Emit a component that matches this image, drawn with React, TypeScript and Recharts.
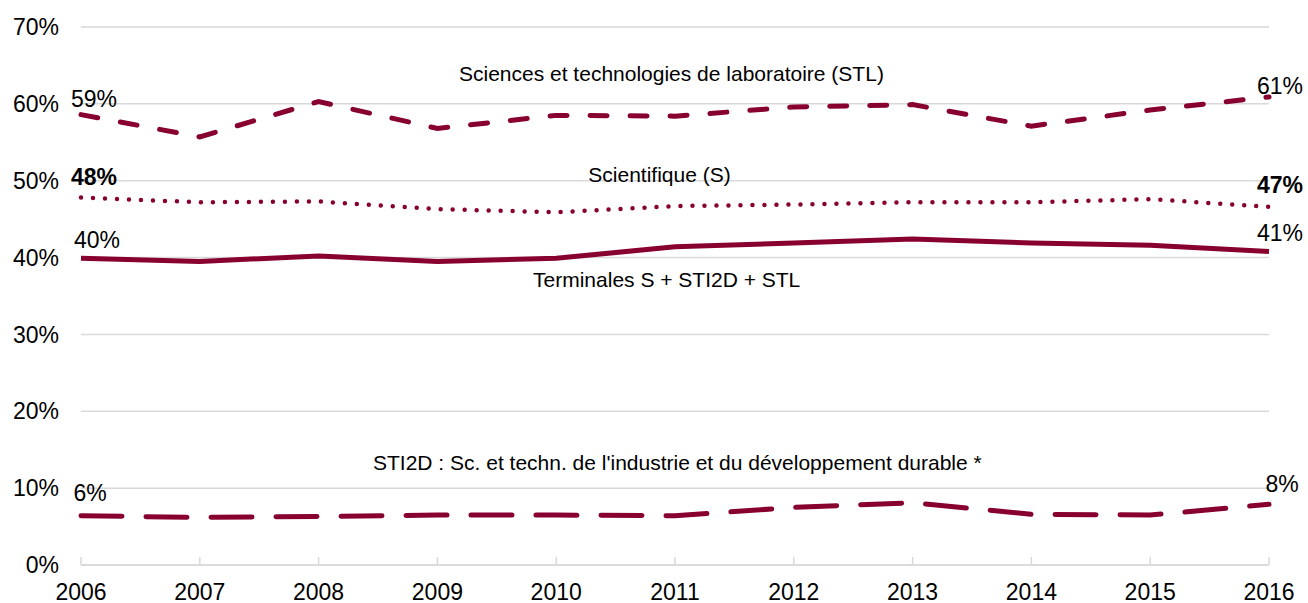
import React from 'react';
import { LineChart, Line, XAxis, YAxis, CartesianGrid, LabelList, ReferenceDot } from 'recharts';

const years = [2006, 2007, 2008, 2009, 2010, 2011, 2012, 2013, 2014, 2015, 2016];
const stl = [58.6, 55.7, 60.3, 56.8, 58.5, 58.4, 59.6, 59.9, 57.1, 59.2, 60.9];
const scientifique = [47.8, 47.2, 47.3, 46.3, 45.9, 46.7, 46.9, 47.2, 47.2, 47.6, 46.6];
const total = [39.9, 39.5, 40.2, 39.5, 39.9, 41.4, 41.9, 42.4, 41.9, 41.6, 40.8];
const sti2d = [6.4, 6.2, 6.3, 6.5, 6.5, 6.4, 7.5, 8.1, 6.6, 6.5, 7.9];
const yTicks = [0, 10, 20, 30, 40, 50, 60, 70];

const seriesNames = {
  stl: 'Sciences et technologies de laboratoire (STL)',
  s: 'Scientifique (S)',
  total: 'Terminales S + STI2D + STL',
  sti2d: "STI2D : Sc. et techn. de l'industrie et du développement durable *",
};

// where each series name sits, in data units
const annotations = [
  { text: seriesNames.stl, year: 2010.97, value: 64.0 },
  { text: seriesNames.s, year: 2010.87, value: 50.85 },
  { text: seriesNames.total, year: 2010.93, value: 37.2 },
  { text: seriesNames.sti2d, year: 2011.02, value: 13.35 },
];

const data = years.map((year, i) => ({
  year,
  stl: stl[i],
  s: scientifique[i],
  total: total[i],
  sti2d: sti2d[i],
}));

const COLOR = '#870030';
const GRID = '#d9d9d9';
const FONT = '"Liberation Sans", Arial, sans-serif';

const endLabel = (offsets: { fx: number; fy: number; lx: number; ly: number }, bold = false) =>
  (props: any) => {
    const { x, y, value, index } = props;
    const last = years.length - 1;
    if (index !== 0 && index !== last) return null;
    const first = index === 0;
    return (
      <text
        x={x + (first ? offsets.fx : offsets.lx)}
        y={y + (first ? offsets.fy : offsets.ly)}
        textAnchor="middle"
        fontSize={23}
        fontFamily={FONT}
        fontWeight={bold ? 'bold' : 'normal'}
        fill="#000"
      >
        {Math.round(value)}%
      </text>
    );
  };

const YearTick = ({ x, y, payload }: any) => (
  <g>
    <line x1={x} x2={x} y1={y} y2={y - 8} stroke={GRID} strokeWidth={1.5} />
    <text x={x} y={y + 35} textAnchor="middle" fontSize={23} fontFamily={FONT} fill="#000">
      {payload.value}
    </text>
  </g>
);

export default function App() {
  return (
    <div style={{ position: 'absolute', left: 0, top: 0, background: '#fff' }}>
      <LineChart
        width={1308}
        height={603}
        data={data}
        margin={{ top: 27, right: 39, left: 0, bottom: 0 }}
      >
        <CartesianGrid vertical={false} stroke={GRID} strokeWidth={1.5} />
        <XAxis
          dataKey="year"
          type="number"
          domain={[2006, 2016]}
          ticks={years}
          height={38}
          tickSize={0}
          tickMargin={0}
          axisLine={{ stroke: GRID, strokeWidth: 1.5 }}
          tick={<YearTick />}
          interval={0}
        />
        <YAxis
          domain={[0, 70]}
          ticks={yTicks}
          width={81}
          axisLine={false}
          tickLine={false}
          tickSize={0}
          tickMargin={22}
          tickFormatter={(v) => `${v}%`}
          tick={{ fill: '#000', fontSize: 23, fontFamily: FONT }}
        />
        <Line
          dataKey="stl"
          stroke={COLOR}
          strokeWidth={5}
          strokeDasharray="17 23"
          strokeLinecap="round"
          dot={false}
          isAnimationActive={false}
        >
          <LabelList dataKey="stl" content={endLabel({ fx: 13, fy: -8, lx: 11, ly: -3 })} />
        </Line>
        <Line
          dataKey="s"
          stroke={COLOR}
          strokeWidth={4.5}
          strokeDasharray="0 12"
          strokeLinecap="round"
          dot={false}
          isAnimationActive={false}
        >
          <LabelList dataKey="s" content={endLabel({ fx: 13, fy: -13, lx: 11, ly: -14 }, true)} />
        </Line>
        <Line
          dataKey="total"
          stroke={COLOR}
          strokeWidth={5}
          dot={false}
          isAnimationActive={false}
        >
          <LabelList dataKey="total" content={endLabel({ fx: 16, fy: -10, lx: 11, ly: -10 })} />
        </Line>
        <Line
          dataKey="sti2d"
          stroke={COLOR}
          strokeWidth={5}
          strokeDasharray="41 24"
          strokeLinecap="round"
          dot={false}
          isAnimationActive={false}
        >
          <LabelList dataKey="sti2d" content={endLabel({ fx: 9, fy: -15, lx: 13, ly: -12 })} />
        </Line>
        {annotations.map((a) => (
          <ReferenceDot
            key={a.text}
            x={a.year}
            y={a.value}
            r={0}
            fill="none"
            stroke="none"
            label={{ value: a.text, position: 'center', fill: '#000', fontSize: 21, fontFamily: FONT }}
          />
        ))}
      </LineChart>
    </div>
  );
}
